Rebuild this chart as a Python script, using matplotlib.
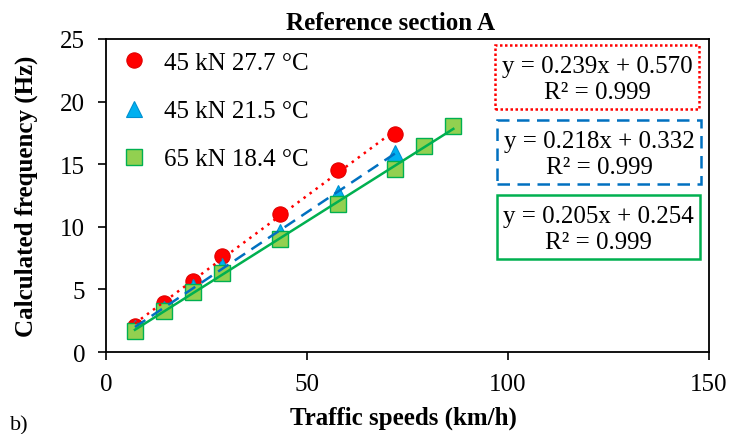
import numpy as np
import matplotlib.pyplot as plt
from matplotlib.patches import Rectangle

plt.rcParams['font.family'] = ['Liberation Serif', 'DejaVu Serif']

# speeds (km/h) and calculated frequencies (Hz)
speed_a = [7.2, 14.4, 21.6, 28.8, 43.2, 57.6, 72.0]
freq_a = [2.05, 3.95, 5.7, 7.7, 11.0, 14.5, 17.4]   # 45 kN 27.7 °C

speed_b = [7.2, 14.4, 21.6, 28.8, 43.2, 57.6, 72.0]
freq_b = [1.9, 3.4, 5.2, 6.9, 9.6, 12.7, 15.9]      # 45 kN 21.5 °C

speed_c = [7.2, 14.4, 21.6, 28.8, 43.2, 57.6, 72.0, 79.2, 86.4]
freq_c = [1.7, 3.25, 4.8, 6.3, 9.0, 11.85, 14.6, 16.45, 18.05]  # 65 kN 18.4 °C

labels = ['45 kN 27.7 °C', '45 kN 21.5 °C', '65 kN 18.4 °C']
fit_text = ['y = 0.239x + 0.570\nR² = 0.999',
            'y = 0.218x + 0.332\nR² = 0.999',
            'y = 0.205x + 0.254\nR² = 0.999']

W, H = 732, 435
fig = plt.figure(figsize=(W / 100, H / 100), dpi=100)
ax = fig.add_axes([106 / W, 1 - 353 / H, (709 - 106) / W, (353 - 40) / H])

# trendlines
for xs, ys, col, ls in [(speed_a, freq_a, '#FF0000', (0, (1, 2))),
                        (speed_b, freq_b, '#0070C0', (0, (5, 3))),
                        (speed_c, freq_c, '#00B050', '-')]:
    k, b = np.polyfit(xs, ys, 1)
    xx = np.array([xs[0], xs[-1]])
    ax.plot(xx, k * xx + b, color=col, ls=ls, lw=1.8, zorder=3)

h1, = ax.plot(speed_a, freq_a, 'o', ms=11, color='#FF0000', mec='#E00000', mew=0.8, zorder=2, label=labels[0])
h2, = ax.plot(speed_b, freq_b, '^', ms=11, color='#00B0F0', mec='#0090D0', mew=0.8, zorder=2, label=labels[1])
h3, = ax.plot(speed_c, freq_c, 's', ms=11, color='#92D050', mec='#00B050', mew=1.0, zorder=2, label=labels[2])

ax.set_xlim(0, 150)
ax.set_ylim(0, 25)
ax.set_xticks([0, 50, 100, 150])
ax.set_yticks([0, 5, 10, 15, 20, 25])
ax.tick_params(direction='out', length=6, width=1.2, labelsize=18, pad=9)
for s in ax.spines.values():
    s.set_linewidth(1.3)

ax.set_title('Reference section A', fontsize=18, fontweight='bold', pad=7, x=0.472)
ax.set_xlabel('Traffic speeds (km/h)', fontsize=18, fontweight='bold', labelpad=8)
ax.xaxis.label.set_x(0.4925)
ax.set_ylabel('Calculated frequency (Hz)', fontsize=18, fontweight='bold')
ax.yaxis.set_label_coords(-0.113, 0.5)

ax.legend(handles=[h1, h2, h3], loc='upper left', frameon=False, fontsize=18,
          handlelength=1.2, handletextpad=0.62, labelspacing=1.03,
          borderaxespad=0.0, borderpad=0.5, bbox_to_anchor=(0.0, 1.0))

# equation boxes (pixel coordinates from the top-left)
boxes = [(495, 46, 699, 110, '#FF0000', (0, (1, 1))),
         (497, 121, 701, 185, '#0070C0', (0, (5, 3))),
         (497, 196, 700, 260, '#00B050', '-')]
for (x0, y0, x1, y1, col, ls), txt in zip(boxes, fit_text):
    fig.patches.append(Rectangle((x0 / W, 1 - y1 / H), (x1 - x0) / W, (y1 - y0) / H,
                                 transform=fig.transFigure, fill=True, fc='white',
                                 ec=col, ls=ls, lw=1.8, zorder=5))
    fig.text((x0 + x1) / 2 / W, 1 - ((y0 + y1) / 2 + 2) / H, txt, ha='center', va='center',
             fontsize=18, linespacing=1.2, zorder=6)

fig.text(10 / W, 0.0, 'b)', fontsize=16, va='bottom')

fig.savefig('out.png', dpi=100)
